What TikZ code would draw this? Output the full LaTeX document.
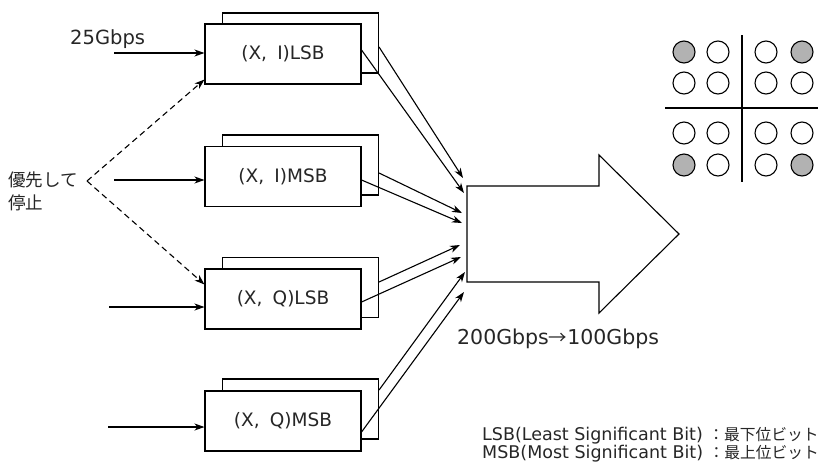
\documentclass[tikz,border=0pt]{standalone}
\usepackage{fontspec}
\setmainfont{DejaVu Sans}
\newfontfamily\jp{Noto Sans CJK JP}[Scale=0.9]
\usetikzlibrary{arrows.meta,calc}
\begin{document}
\begin{tikzpicture}[x=1pt,y=-1pt,
  every node/.style={text=black!85},
  ln/.style={line width=1.1pt},
  tip/.style={-{Stealth[length=10pt,width=7pt,inset=3pt]}},
  frontbox/.style={draw,line width=1.1pt,fill=white,minimum width=156pt,minimum height=60pt,font=\fontsize{18.5}{19}\selectfont},
  backbox/.style={draw,line width=1.1pt,fill=white,minimum width=156pt,minimum height=60pt},
  lbl/.style={font=\fontsize{19.5}{23}\selectfont},
  dot/.style={draw,line width=1.1pt,circle,minimum size=22pt,inner sep=0pt},
  dotg/.style={dot,fill=black!30}
]
\useasboundingbox (0,0) rectangle (819,464);

% boxes (back then front)
\node[backbox] (b1) at (300.5,43) {};
\node[frontbox] (f1) at (283,54) {(X,\hspace{0.55em}I)LSB};
\node[backbox] (b2) at (300.5,165) {};
\node[frontbox] (f2) at (283,176.5) {(X,\hspace{0.55em}I)MSB};
\node[backbox] (b3) at (300.5,287.5) {};
\node[frontbox] (f3) at (283,299) {(X,\hspace{0.55em}Q)LSB};
\node[backbox] (b4) at (300.5,409) {};
\node[frontbox] (f4) at (283,421) {(X,\hspace{0.55em}Q)MSB};

% inputs
\coordinate (i1) at (114,53);
\coordinate (i2) at (114,180);
\coordinate (i3) at (109,307);
\coordinate (i4) at (108,427);
\draw[ln,tip] (i1) -- ([yshift=1pt]f1.west);
\draw[ln,tip] (i2) -- ([yshift=-3.5pt]f2.west);
\draw[ln,tip] (i3) -- ([yshift=-8pt]f3.west);
\draw[ln,tip] (i4) -- ([yshift=-6pt]f4.west);
\node[lbl,anchor=west,inner sep=0pt] (rate) at (70,39) {25Gbps};

% priority stop
\node[lbl,align=left,anchor=west,inner sep=0pt] (stop) at (8,191) {\jp 優先して\\\jp 停止};
\coordinate (apex) at (87,181);
\draw[ln,dash pattern=on 6pt off 4pt,tip] (apex) -- ([yshift=5pt]f1.south west);
\draw[ln,dash pattern=on 6pt off 4pt,tip] (apex) -- ([yshift=-16pt]f3.north west);

% big arrow
\coordinate (a1) at (467,186);
\coordinate (a2) at (599,186);
\coordinate (a3) at (599,155);
\coordinate (a4) at (679,234);
\coordinate (a5) at (599,313);
\coordinate (a6) at (599,282);
\coordinate (a7) at (467,282);
\draw[ln,line join=miter] (a1) -- (a2) -- (a3) -- (a4) -- (a5) -- (a6) -- (a7) -- cycle;
\node[anchor=west,inner sep=0pt,font=\fontsize{20.5}{23}\selectfont] (rr) at (457,339) {200Gbps{\jp →}100Gbps};

% converging arrows
\coordinate (t1a) at (463,178);
\coordinate (t1b) at (464,193);
\coordinate (t2a) at (462,213);
\coordinate (t2b) at (462,223);
\coordinate (t3a) at (460,245);
\coordinate (t3b) at (461,257);
\coordinate (t4a) at (465,272);
\coordinate (t4b) at (464,292);
\draw[ln,tip] ([yshift=-4pt]b1.east) -- (t1a);
\draw[ln,tip] ([yshift=4pt]f1.east) -- (t1b);
\draw[ln,tip] ([yshift=-8pt]b2.east) -- (t2a);
\draw[ln,tip] ([yshift=-3.5pt]f2.east) -- (t2b);
\draw[ln,tip] ([yshift=5.5pt]b3.east) -- (t3a);
\draw[ln,tip] ([yshift=-3pt]f3.east) -- (t3b);
\draw[ln,tip] ([yshift=19pt]b4.east) -- (t4a);
\draw[ln,tip] ([yshift=-11pt]f4.east) -- (t4b);

% constellation
\coordinate (v1) at (742,35);
\coordinate (v2) at (742,182);
\coordinate (h1) at (665,108);
\coordinate (h2) at (818,108);
\draw[ln] (v1) -- (v2);
\draw[ln] (h1) -- (h2);
\node[dotg] (c11) at (684,52) {};
\node[dot]  (c12) at (718,52) {};
\node[dot]  (c13) at (766,52) {};
\node[dotg] (c14) at (802,52) {};
\node[dot]  (c21) at (684,83) {};
\node[dot]  (c22) at (718,83) {};
\node[dot]  (c23) at (766,83) {};
\node[dot]  (c24) at (802,83) {};
\node[dot]  (c31) at (684,133) {};
\node[dot]  (c32) at (718,133) {};
\node[dot]  (c33) at (766,133) {};
\node[dot]  (c34) at (802,133) {};
\node[dotg] (c41) at (684,165) {};
\node[dot]  (c42) at (718,165) {};
\node[dot]  (c43) at (766,165) {};
\node[dotg] (c44) at (802,165) {};

% footnote
\node[anchor=west,align=left,inner sep=0pt,font=\fontsize{17.5}{12.5}\selectfont] (note) at (482,445)
 {LSB(Least Significant Bit) {\jp\fontsize{17.5}{12.5}\selectfont ：最下位ビット}\\MSB(Most Significant Bit) {\jp\fontsize{17.5}{12.5}\selectfont ：最上位ビット}};
\end{tikzpicture}
\end{document}
